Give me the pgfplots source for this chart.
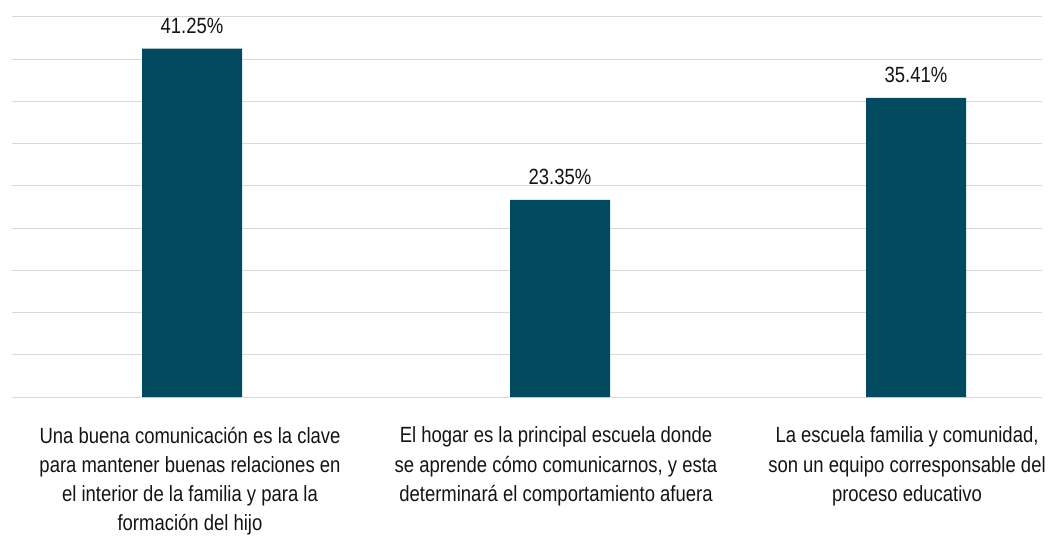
\documentclass[border=0pt]{standalone}
\usepackage{pgfplots}
\pgfplotsset{compat=1.18}
\usepackage{fontspec}
\setmainfont{Liberation Sans}[FakeStretch=0.84]
\definecolor{barc}{RGB}{2,74,96}
\definecolor{gridc}{RGB}{217,217,217}
\definecolor{txt}{RGB}{20,20,20}
\begin{document}
\begin{tikzpicture}[x=1pt,y=1pt]
\useasboundingbox (0,0) rectangle (1060,546);
\begin{axis}[
  at={(12pt,149pt)}, anchor=south west,
  scale only axis, width=1030pt, height=380pt,
  xmin=12, xmax=1042, ymin=0, ymax=45,
  ytick={0,5,...,45}, yticklabels={},
  ymajorgrids, grid style={gridc, line width=1pt},
  axis line style={draw=none}, major tick style={draw=none},
  xtick={190,556,907},
  xticklabels={
    {Una buena comunicación es la clave\\para mantener buenas relaciones en\\el interior de la familia y para la\\formación del hijo},
    {El hogar es la principal escuela donde\\se aprende cómo comunicarnos, y esta\\determinará el comportamiento afuera},
    {La escuela familia y comunidad,\\son un equipo corresponsable del\\proceso educativo}},
  xticklabel style={align=center, anchor=north, font=\fontsize{22}{29.3}\selectfont, text=txt, yshift=-22pt},
  ybar, bar width=100,
  /pgf/number format/assume math mode=true,
  nodes near coords={\pgfmathprintnumber[fixed,precision=2,fixed zerofill,assume math mode=true]{\pgfplotspointmeta}\%},
  nodes near coords style={font=\fontsize{22}{26}\selectfont, text=txt, anchor=south, yshift=11.5pt},
  clip=false,
]
\addplot[fill=barc, draw=none] coordinates {(192,41.25) (560,23.35) (916,35.41)};
\end{axis}
\end{tikzpicture}
\end{document}
